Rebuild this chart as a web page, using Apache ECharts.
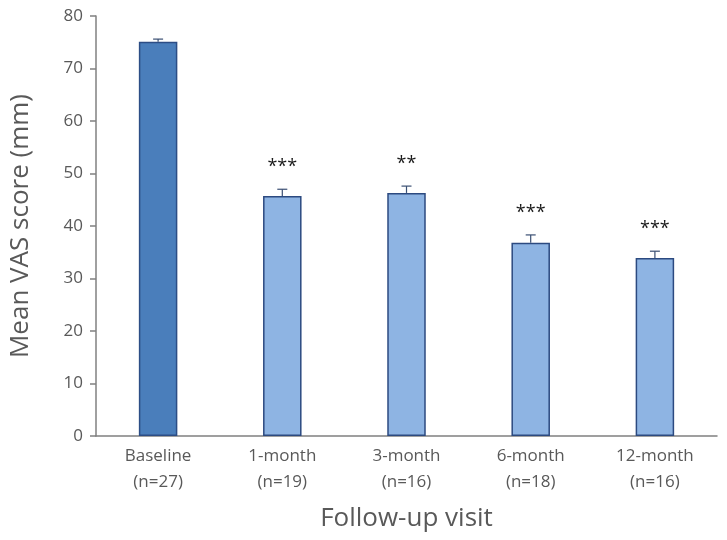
<!DOCTYPE html>
<html>
<head>
<meta charset="utf-8">
<script src="https://cdn.jsdelivr.net/npm/echarts@6/dist/echarts.min.js"></script>
<style>html,body{margin:0;padding:0;background:#fff}#c{width:727px;height:540px}</style>
</head>
<body>
<div id="c"></div>
<script>
var categories = ['Baseline\n(n=27)', '1-month\n(n=19)', '3-month\n(n=16)', '6-month\n(n=18)', '12-month\n(n=16)'];
var means = [75.1, 45.7, 46.3, 36.8, 33.9];
var errors = [0.5, 1.3, 1.3, 1.5, 1.3];
var significance = ['', '***', '**', '***', '***'];
var yTicks = [0, 10, 20, 30, 40, 50, 60, 70, 80];

var fills = ['#4a7ebb', '#8eb4e3', '#8eb4e3', '#8eb4e3', '#8eb4e3'];
var borders = ['#2c4d85', '#2c4a80', '#2c4a80', '#2c4a80', '#2c4a80'];

var chart = echarts.init(document.getElementById('c'));
var font = '"Open Sans", "DejaVu Sans", sans-serif';
chart.setOption({
  animation: false,
  grid: {left: 96, right: 10, top: 16, bottom: 104},
  xAxis: {
    type: 'category',
    data: categories,
    name: 'Follow-up visit',
    nameLocation: 'middle',
    nameGap: 70,
    nameTextStyle: {fontSize: 26, color: '#595959', fontFamily: font},
    axisLine: {lineStyle: {color: '#808080', width: 1.5}},
    axisTick: {show: false},
    axisLabel: {fontSize: 17, color: '#595959', fontFamily: font, lineHeight: 26, margin: 7}
  },
  yAxis: {
    type: 'value',
    min: yTicks[0],
    max: yTicks[yTicks.length - 1],
    interval: 10,
    name: 'Mean VAS score (mm)',
    nameLocation: 'middle',
    nameGap: 62,
    nameTextStyle: {fontSize: 26, color: '#595959', fontFamily: font},
    splitLine: {show: false},
    axisLine: {show: true, lineStyle: {color: '#808080', width: 1.5}},
    axisTick: {show: true, length: 6, lineStyle: {color: '#808080', width: 1.5}},
    axisLabel: {fontSize: 17, color: '#595959', fontFamily: font, margin: 13}
  },
  series: [
    {
      type: 'bar',
      barWidth: '31%',
      data: means.map(function (v, i) {
        return {value: v, itemStyle: {color: fills[i], borderColor: borders[i], borderWidth: 1.5}};
      })
    },
    {
      type: 'custom',
      z: 5,
      data: means.map(function (v, i) { return [i, v, v + errors[i], significance[i]]; }),
      renderItem: function (params, api) {
        var x = api.value(0);
        var lo = api.coord([x, api.value(1)]);
        var hi = api.coord([x, api.value(2)]);
        var cap = 5;
        var children = [
          {type: 'line', shape: {x1: lo[0], y1: lo[1], x2: hi[0], y2: hi[1]}, style: {stroke: '#3a4f73', lineWidth: 1.2}},
          {type: 'line', shape: {x1: hi[0] - cap, y1: hi[1], x2: hi[0] + cap, y2: hi[1]}, style: {stroke: '#3a4f73', lineWidth: 1.2}}
        ];
        var s = significance[params.dataIndex];
        if (s) {
          children.push({type: 'text', style: {text: s, x: hi[0], y: hi[1] - 22, align: 'center', verticalAlign: 'middle', fontSize: 18, fill: '#1a1a1a', fontFamily: font}});
        }
        return {type: 'group', children: children};
      }
    }
  ]
});
</script>
</body>
</html>
